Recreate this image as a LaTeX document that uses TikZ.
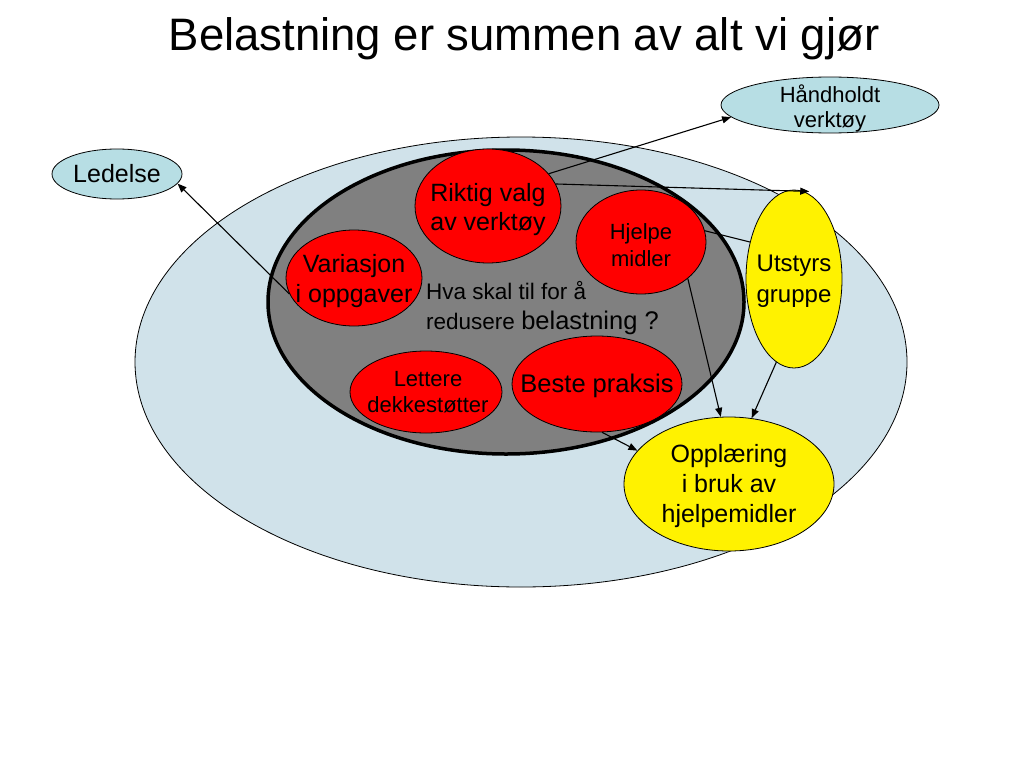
\documentclass[tikz,border=0pt]{standalone}
\usepackage{fontspec}
\setmainfont{Liberation Sans}
\usepackage{tikz}
\usetikzlibrary{shapes.geometric}
\usetikzlibrary{arrows.meta}
\usepackage{xcolor}
\definecolor{paleblue}{RGB}{208,226,234}
\definecolor{tealfill}{RGB}{183,222,228}

\begin{document}
\begin{tikzpicture}[x=1pt,y=-1pt,
  bubble/.style={ellipse,draw,inner sep=0pt,line width=0.8pt},
  redbub/.style={bubble,fill=red},
  yelbub/.style={bubble,fill=yellow},
  tealbub/.style={bubble,fill=tealfill},
  txt/.style={align=center,inner sep=0pt},
  arr/.style={-{Triangle[length=9pt,width=7pt]},line width=1.1pt}]
\useasboundingbox (0,0) rectangle (1024,768);

 \node[anchor=base,font=\fontsize{45.5}{54}\selectfont] (title) at (524,50) {Belastning er summen av alt vi gjør};

% big ellipses
 \node[bubble,fill=paleblue,minimum width=772pt,minimum height=450pt] (sum) at (521,362) {};
 \node[bubble,fill=gray,line width=3.5pt,minimum width=476pt,minimum height=304pt] (tiltak) at (506,302) {};

 \node[redbub,minimum width=146pt,minimum height=114pt] (rv) at (488,206) {};
 \node[redbub,minimum width=130pt,minimum height=104pt] (hm) at (641,242) {};
 \node[redbub,minimum width=136pt,minimum height=96pt] (var) at (354,278) {};
 \node[redbub,minimum width=152pt,minimum height=82pt] (ld) at (426,392) {};
 \node[redbub,minimum width=170pt,minimum height=96pt] (bp) at (597,384) {};
 \node[yelbub,minimum width=96pt,minimum height=178pt] (us) at (794,279) {};
 \node[yelbub,minimum width=210pt,minimum height=134pt] (op) at (729,484) {};
 \node[tealbub,minimum width=218pt,minimum height=56pt] (hv) at (830,105) {};
 \node[tealbub,minimum width=130pt,minimum height=50pt] (led) at (117,174) {};

 \node[txt,font=\fontsize{25}{29}\selectfont] (rv-t) at (488,210) {Riktig valg\\av verktøy};
 \node[txt,font=\fontsize{22}{27}\selectfont] (hm-t) at (641,245) {Hjelpe\\midler};
 \node[txt,font=\fontsize{25}{30}\selectfont] (var-t) at (354,281) {Variasjon\\i oppgaver};
 \node[txt,font=\fontsize{22}{26}\selectfont] (ld-t) at (428,392) {Lettere\\dekkestøtter};
 \node[txt,font=\fontsize{25.5}{30}\selectfont] (bp-t) at (597,385.5) {Beste praksis};
 \node[txt,font=\fontsize{24}{31}\selectfont] (us-t) at (794,281) {Utstyrs\\gruppe};
 \node[txt,font=\fontsize{25}{30}\selectfont] (op-t) at (729,486.5) {Opplæring\\i bruk av\\hjelpemidler};
 \node[txt,font=\fontsize{22}{25}\selectfont] (hv-t) at (830,108) {Håndholdt\\verktøy};
 \node[txt,font=\fontsize{25}{30}\selectfont] (led-t) at (117,174) {Ledelse};
 \node[align=left,inner sep=0pt,anchor=north west,font=\fontsize{22.5}{30}\selectfont] (sporsmal) at (426,281)
   {Hva skal til for å\\redusere {\fontsize{25.5}{30}\selectfont belastning ?}};

% connectors
 \draw[arr] (var.194) -- (led.-9);
 \draw[arr] (rv.28) -- (hv.187);
 \draw[arr,shorten >=-6pt] (rv.18) -- (us.84);
 \draw[line width=1.1pt] (hm.10) -- (us.140);
 \draw[arr] (hm.-38) -- (op.97);
 \draw[arr] (us.258) -- (op.71);
 \draw[arr] (bp.-84) -- (op.160);
\end{tikzpicture}
\end{document}
